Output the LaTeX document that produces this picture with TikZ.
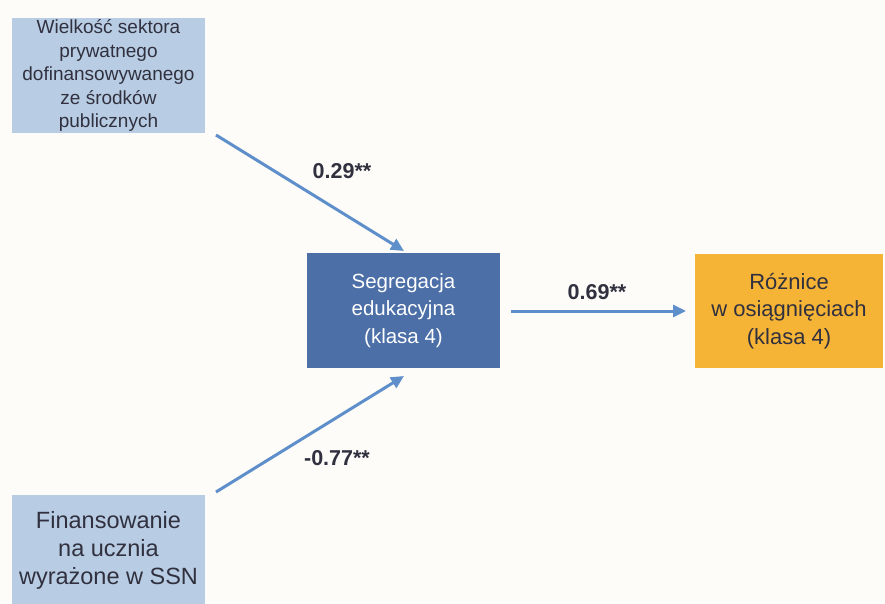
\documentclass[tikz,border=0pt]{standalone}
\usepackage{fontspec}
\setmainfont{Liberation Sans}
\usetikzlibrary{arrows.meta}
\definecolor{bgcol}{HTML}{FDFCF9}
\definecolor{lightbox}{HTML}{B8CDE3}
\definecolor{darkbox}{HTML}{4B6FA6}
\definecolor{orangebox}{HTML}{F6B436}
\definecolor{arrowcol}{HTML}{5E8FCA}
\definecolor{txt}{HTML}{30303F}
\tikzset{
  box/.style={inner sep=0pt, align=center},
  inputbox/.style={box, fill=lightbox, text=txt},
  midbox/.style={box, fill=darkbox, text=white},
  outbox/.style={box, fill=orangebox, text=txt},
  link/.style={draw=arrowcol, line width=3pt, -{Triangle[length=13pt,width=12pt]}},
  coef/.style={font=\fontsize{21.5}{24}\selectfont\bfseries, text=txt}
}
\begin{document}
\begin{tikzpicture}[x=1pt,y=-1pt]
  \fill[bgcol] (0,0) rectangle (885,603);
  \useasboundingbox (0,0) rectangle (885,603);

  \node[inputbox, minimum width=193pt, minimum height=115pt,
        font=\fontsize{19}{23.5}\selectfont] (priv) at (108.5,75.5)
       {Wielkość sektora\\prywatnego\\dofinansowywanego\\ze środków\\publicznych};
  \node[inputbox, minimum width=193pt, minimum height=110pt,
        font=\fontsize{23.5}{28}\selectfont] (fin) at (108.5,550)
       {Finansowanie\\na ucznia\\wyrażone w SSN};
  \node[midbox, minimum width=193pt, minimum height=115pt,
        font=\fontsize{20.5}{27.5}\selectfont] (seg) at (403.5,310.5)
       {Segregacja\\edukacyjna\\(klasa 4)};
  \node[outbox, minimum width=188pt, minimum height=114pt,
        font=\fontsize{22}{27.5}\selectfont] (diff) at (789,311)
       {Różnice\\w osiągnięciach\\(klasa 4)};

  \coordinate (a1) at (216,135);
  \coordinate (a2) at (404,251);
  \coordinate (b1) at (216,492);
  \coordinate (b2) at (404,376);
  \coordinate (c1) at (511,311);
  \coordinate (c2) at (686,311);
  \draw[link] (a1) -- (a2);
  \draw[link] (b1) -- (b2);
  \draw[link] (c1) -- (c2);

  \node[coef] (l1) at (342,171) {0.29**};
  \node[coef] (l2) at (597,292) {0.69**};
  \node[coef] (l3) at (337,458) {-0.77**};
\end{tikzpicture}
\end{document}
